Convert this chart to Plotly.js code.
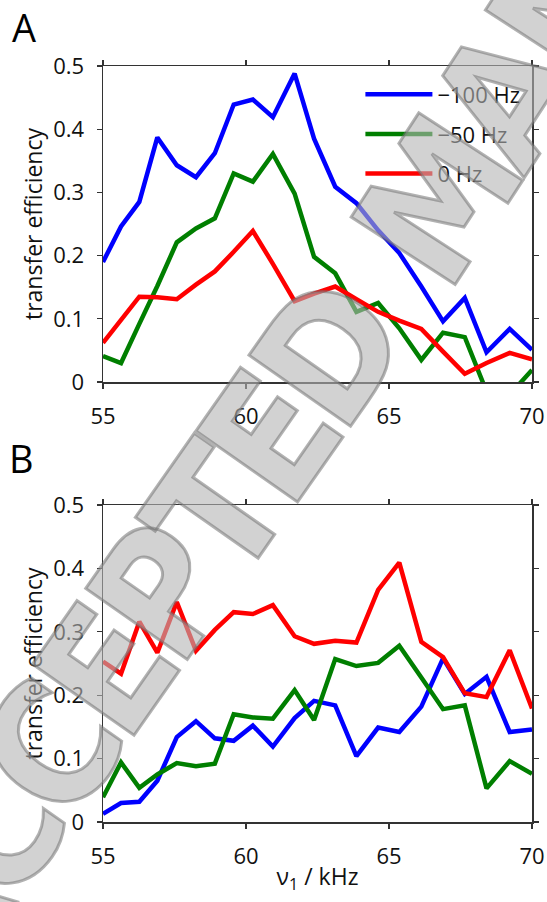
<!DOCTYPE html>
<html>
<head>
<meta charset="utf-8">
<script src="https://cdn.plot.ly/plotly-3.0.1.min.js"></script>
<style>
  html, body { margin: 0; padding: 0; background: #fff; }
  #wrap { position: relative; width: 547px; height: 902px; overflow: hidden; }
  #chart { width: 547px; height: 902px; }
  .wm {
    position: absolute; white-space: nowrap; pointer-events: none;
    font-family: "Liberation Sans Narrow", "DejaVu Sans Condensed", "Liberation Sans", sans-serif;
    font-stretch: condensed; font-weight: bold; font-size: 170px; line-height: 1;
    letter-spacing: -12px;
    color: rgba(180,180,180,0.6);
    -webkit-text-stroke: 3px rgba(115,115,115,0.55);
  }
  #wm1 { left: 131px; top: 637px; transform: translate(-50%, -50%) rotate(-55deg); }
  #wm2 { left: 398px; top: 264px; transform-origin: left center; transform: translate(0, -50%) rotate(-57deg); }
</style>
</head>
<body>
<div id="wrap">
  <div id="chart"></div>
  <div class="wm" id="wm1">ACCEPTED</div>
  <div class="wm" id="wm2">MANUSCRIPT</div>
</div>
<script>
// spinning frequency nu1 (kHz)
const nu1 = [55.00, 55.63, 56.27, 56.90, 57.58, 58.25, 58.91, 59.57, 60.24, 60.94, 61.70,
             62.38, 63.12, 63.86, 64.62, 65.36, 66.13, 66.89, 67.65, 68.41, 69.22, 70.00];

const seriesNames = ["\u2212100 Hz", "\u221250 Hz", "0 Hz"];

// Panel A
const A_m100 = [0.190, 0.246, 0.285, 0.387, 0.343, 0.324, 0.362, 0.439, 0.447, 0.419, 0.488,
                0.385, 0.309, 0.283, 0.240, 0.204, 0.151, 0.096, 0.133, 0.047, 0.084, 0.051];
const A_m50  = [0.041, 0.030, 0.092, 0.152, 0.221, 0.243, 0.259, 0.330, 0.317, 0.361, 0.298,
                0.198, 0.172, 0.111, 0.125, 0.085, 0.035, 0.078, 0.071, -0.015, -0.020, 0.019];
const A_0    = [0.062, 0.099, 0.135, 0.134, 0.131, 0.154, 0.175, 0.206, 0.239, 0.187, 0.128,
                0.140, 0.151, 0.131, 0.111, 0.097, 0.084, 0.048, 0.013, 0.030, 0.046, 0.036];

// Panel B
const B_m100 = [0.013, 0.030, 0.032, 0.065, 0.134, 0.159, 0.132, 0.128, 0.152, 0.119, 0.164,
                0.191, 0.184, 0.104, 0.149, 0.142, 0.182, 0.258, 0.202, 0.229, 0.142, 0.146];
const B_m50  = [0.039, 0.094, 0.054, 0.075, 0.093, 0.088, 0.092, 0.170, 0.165, 0.163, 0.208,
                0.161, 0.257, 0.246, 0.251, 0.278, 0.228, 0.178, 0.184, 0.053, 0.096, 0.076];
const B_0    = [0.253, 0.234, 0.316, 0.267, 0.347, 0.270, 0.303, 0.331, 0.328, 0.342, 0.293,
                0.281, 0.286, 0.283, 0.366, 0.409, 0.284, 0.260, 0.203, 0.197, 0.271, 0.179];

const colors = ["#0000ff", "#007f00", "#ff0000"];
const xTicks = [55, 60, 65, 70];
const yTicks = [0, 0.1, 0.2, 0.3, 0.4, 0.5];
const yTickText = ["0", "0.1", "0.2", "0.3", "0.4", "0.5"];

const FONT = "Open Sans, Noto Sans, sans-serif";

const panelA = [A_m100, A_m50, A_0];
const panelB = [B_m100, B_m50, B_0];
const traces = [];
panelA.forEach((ys, i) => traces.push({
  x: nu1, y: ys, xaxis: "x", yaxis: "y", type: "scatter", mode: "lines",
  name: seriesNames[i], legendgroup: "g" + i, showlegend: true,
  line: {color: colors[i], width: 4.5}
}));
panelB.forEach((ys, i) => traces.push({
  x: nu1, y: ys, xaxis: "x2", yaxis: "y2", type: "scatter", mode: "lines",
  name: seriesNames[i], legendgroup: "g" + i, showlegend: false,
  line: {color: colors[i], width: 4.5}
}));

const axCommon = {
  showline: true, mirror: "ticks", linecolor: "#333", linewidth: 1.5,
  ticks: "outside", ticklen: 5, tickcolor: "#333", tickwidth: 1.2,
  showgrid: false, zeroline: false, fixedrange: true,
  tickfont: {family: FONT, size: 22, color: "#111"}
};
const xAx = Object.assign({}, axCommon, {range: [55, 70], tickmode: "array", tickvals: xTicks, ticklabelstandoff: 9});
const yAx = Object.assign({}, axCommon, {range: [0, 0.5], tickmode: "array", tickvals: yTicks, ticktext: yTickText, ticklabelstandoff: 8,
  title: {text: "transfer efficiency", font: {family: FONT, size: 23, color: "#111"}, standoff: 4}});

const layout = {
  width: 547, height: 902,
  margin: {l: 103, r: 15, t: 66, b: 80},
  paper_bgcolor: "#fff", plot_bgcolor: "#fff",
  showlegend: true,
  legend: {x: 0.6, xanchor: "left", y: 0.990, yanchor: "top", bgcolor: "rgba(0,0,0,0)",
           itemwidth: 67,
           font: {family: FONT, size: 22, color: "#111"}, tracegroupgap: 8},
  xaxis: Object.assign({}, xAx, {domain: [0, 1], anchor: "y"}),
  yaxis: Object.assign({}, yAx, {domain: [0.582, 1], anchor: "x"}),
  xaxis2: Object.assign({}, xAx, {domain: [0, 1], anchor: "y2",
    title: {text: "\u03bd<sub>1</sub> / kHz", font: {family: FONT, size: 23, color: "#111"}, standoff: 0}}),
  yaxis2: Object.assign({}, yAx, {domain: [0, 0.4193], anchor: "x2"}),
  annotations: [
    {text: "A", xref: "paper", yref: "paper", x: -0.184, y: 1.051, xanchor: "center", yanchor: "middle",
     showarrow: false, font: {family: FONT, size: 38, color: "#000"}},
    {text: "B", xref: "paper", yref: "paper", x: -0.189, y: 0.482, xanchor: "center", yanchor: "middle",
     showarrow: false, font: {family: FONT, size: 38, color: "#000"}}
  ]
};

Plotly.newPlot("chart", traces, layout, {staticPlot: true, displayModeBar: false});
</script>
</body>
</html>
